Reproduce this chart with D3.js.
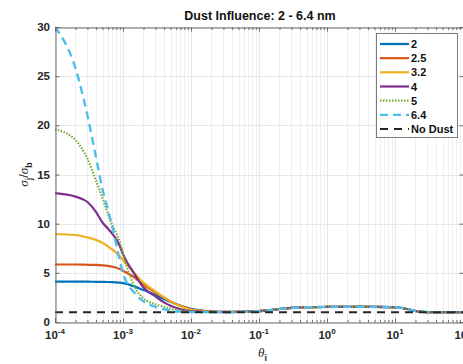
<!DOCTYPE html>
<html>
<head>
<meta charset="utf-8">
<script src="https://cdn.jsdelivr.net/npm/d3@7"></script>
<style>
  html, body { margin: 0; padding: 0; background: #fff; }
  svg { display: block; font-family: "Liberation Sans", Arial, sans-serif; }
</style>
</head>
<body>
<svg id="chart" width="463" height="364"></svg>
<script>
// Incidence angle samples (log spaced)
const theta = [1e-4, 2e-4, 3e-4, 4e-4, 5e-4, 6e-4, 7e-4, 8e-4, 9e-4, 1e-3,
               1.5e-3, 2e-3, 3e-3, 4e-3, 5e-3, 7e-3, 1e-2, 2e-2, 3e-2, 5e-2,
               7e-2, 0.1, 0.15, 0.2, 0.3, 0.5, 1, 2, 5, 10,
               12, 15, 20, 25, 30, 50, 100];

// sigma_j / sigma_b for each dust size (nm)
const size2   = [4.1, 4.1, 4.1, 4.09, 4.08, 4.07, 4.05, 4.02, 4.0, 3.95,
                 3.6, 3.25, 2.75, 2.35, 2.05, 1.65, 1.35, 1.08, 1.04, 1.03,
                 1.05, 1.1, 1.22, 1.32, 1.43, 1.5, 1.53, 1.54, 1.53, 1.5,
                 1.45, 1.32, 1.12, 1.04, 1.01, 1.0, 1.0];
const size2_5 = [5.85, 5.85, 5.82, 5.8, 5.76, 5.7, 5.62, 5.52, 5.38, 5.22,
                 4.5, 3.8, 3.0, 2.5, 2.1, 1.65, 1.3, 1.06, 1.03, 1.02,
                 1.05, 1.1, 1.22, 1.32, 1.43, 1.5, 1.53, 1.54, 1.53, 1.5,
                 1.45, 1.32, 1.12, 1.04, 1.01, 1.0, 1.0];
const size3_2 = [8.95, 8.85, 8.6, 8.35, 8.05, 7.7, 7.35, 7.0, 6.65, 6.3,
                 4.9, 4.0, 3.1, 2.5, 2.1, 1.6, 1.25, 1.05, 1.02, 1.02,
                 1.05, 1.1, 1.22, 1.32, 1.43, 1.5, 1.53, 1.54, 1.53, 1.5,
                 1.45, 1.32, 1.12, 1.04, 1.01, 1.0, 1.0];
const size4   = [13.1, 12.75, 12.2, 11.2, 10.1, 9.5, 8.95, 8.4, 7.7, 6.9,
                 4.8, 3.5, 2.6, 2.0, 1.65, 1.3, 1.1, 1.02, 1.01, 1.02,
                 1.05, 1.1, 1.22, 1.32, 1.43, 1.5, 1.53, 1.54, 1.53, 1.5,
                 1.45, 1.32, 1.12, 1.04, 1.01, 1.0, 1.0];
const size5   = [19.6, 18.5, 16.6, 14.4, 12.6, 11.0, 9.8, 9.0, 8.1, 6.9,
                 3.5, 2.4, 1.8, 1.55, 1.35, 1.15, 1.05, 1.01, 1.01, 1.02,
                 1.05, 1.1, 1.22, 1.32, 1.43, 1.5, 1.53, 1.54, 1.53, 1.5,
                 1.45, 1.32, 1.12, 1.04, 1.01, 1.0, 1.0];
const size6_4 = [30, 25.8, 21.0, 16.8, 13.5, 11.4, 9.6, 7.8, 6.2, 5.0,
                 2.9, 2.1, 1.55, 1.3, 1.15, 1.05, 1.02, 1.0, 1.0, 1.01,
                 1.05, 1.1, 1.22, 1.32, 1.43, 1.5, 1.53, 1.54, 1.53, 1.5,
                 1.45, 1.32, 1.12, 1.04, 1.01, 1.0, 1.0];
const noDust  = [1, 1];
const noDustTheta = [1e-4, 1e2];

const seriesNames = ["2", "2.5", "3.2", "4", "5", "6.4", "No Dust"];
const xTickExps = [-4, -3, -2, -1, 0, 1, 2];
const yTicks = [0, 5, 10, 15, 20, 25, 30];

const series = [
  { name: seriesNames[0], x: theta, y: size2,   color: "#0072BD", dash: null,  width: 2.2 },
  { name: seriesNames[1], x: theta, y: size2_5, color: "#D95319", dash: null,  width: 2.2 },
  { name: seriesNames[2], x: theta, y: size3_2, color: "#EDB120", dash: null,  width: 2.2 },
  { name: seriesNames[3], x: theta, y: size4,   color: "#7E2F8E", dash: null,  width: 2.2 },
  { name: seriesNames[4], x: theta, y: size5,   color: "#77AC30", dash: "1.5,1.5", width: 2.2 },
  { name: seriesNames[5], x: theta, y: size6_4, color: "#4DBEEE", dash: "8,5", width: 2.4 },
  { name: seriesNames[6], x: noDustTheta, y: noDust, color: "#262626", dash: "8,6", width: 2 }
];

const svg = d3.select("#chart");
const pLeft = 55, pRight = 463, pTop = 27, pBottom = 322;

const x = d3.scaleLog().domain([1e-4, 1e2]).range([pLeft, pRight]);
const y = d3.scaleLinear().domain([0, 30]).range([pBottom, pTop]);

const axisColor = "#6b6b6b";

// Grid: minor x lines, major x/y lines
const minorX = [];
for (let e = -4; e < 2; e++) for (let m = 2; m <= 9; m++) minorX.push(m * Math.pow(10, e));
const grid = svg.append("g");
grid.selectAll("line.minor").data(minorX).join("line")
  .attr("x1", d => Math.round(x(d)) + 0.5).attr("x2", d => Math.round(x(d)) + 0.5)
  .attr("y1", pTop).attr("y2", pBottom)
  .attr("stroke", "#ebebeb").attr("stroke-width", 0.8);
grid.selectAll("line.majx").data(xTickExps).join("line")
  .attr("x1", d => Math.round(x(Math.pow(10, d))) + 0.5).attr("x2", d => Math.round(x(Math.pow(10, d))) + 0.5)
  .attr("y1", pTop).attr("y2", pBottom)
  .attr("stroke", "#dedede").attr("stroke-width", 0.8);
grid.selectAll("line.majy").data(yTicks).join("line")
  .attr("x1", pLeft).attr("x2", pRight)
  .attr("y1", d => Math.round(y(d)) + 0.5).attr("y2", d => Math.round(y(d)) + 0.5)
  .attr("stroke", "#e2e2e2").attr("stroke-width", 0.8);

// Data lines
svg.append("clipPath").attr("id", "plotClip").append("rect")
  .attr("x", pLeft).attr("y", pTop - 1).attr("width", pRight - pLeft).attr("height", pBottom - pTop + 1);
const line = d3.line().x(d => x(d[0])).y(d => y(d[1])).curve(d3.curveMonotoneX);
const plot = svg.append("g").attr("clip-path", "url(#plotClip)");
series.forEach(s => {
  const pts = s.x.map((t, i) => [t, s.y[i]]);
  plot.append("path").datum(pts)
    .attr("d", line)
    .attr("fill", "none")
    .attr("stroke", s.color)
    .attr("stroke-width", s.width)
    .attr("stroke-dasharray", s.dash)
    .attr("stroke-linejoin", "round");
});

// Axes (ticks point inward)
const xAxisB = d3.axisBottom(x).tickValues(xTickExps.map(e => Math.pow(10, e))).tickSize(-4).tickFormat("");
const xAxisT = d3.axisTop(x).tickValues(xTickExps.map(e => Math.pow(10, e))).tickSize(-4).tickFormat("");
const xMinorB = d3.axisBottom(x).tickValues(minorX).tickSize(-2.5).tickFormat("");
const xMinorT = d3.axisTop(x).tickValues(minorX).tickSize(-2.5).tickFormat("");
const yAxisL = d3.axisLeft(y).tickValues(yTicks).tickSize(-4).tickFormat("");
const yAxisR = d3.axisRight(y).tickValues(yTicks).tickSize(-4).tickFormat("");

function styleAxis(g) {
  g.selectAll("path,line").attr("stroke", axisColor).attr("stroke-width", 1);
}
svg.append("g").attr("transform", `translate(0,${pBottom + 0.5})`).call(xAxisB).call(styleAxis);
svg.append("g").attr("transform", `translate(0,${pBottom + 0.5})`).call(xMinorB).call(styleAxis).select(".domain").remove();
svg.append("g").attr("transform", `translate(0,${pTop + 0.5})`).call(xAxisT).call(styleAxis);
svg.append("g").attr("transform", `translate(0,${pTop + 0.5})`).call(xMinorT).call(styleAxis).select(".domain").remove();
svg.append("g").attr("transform", `translate(${pLeft + 0.5},0)`).call(yAxisL).call(styleAxis);
svg.append("g").attr("transform", `translate(${pRight + 0.5},0)`).call(yAxisR).call(styleAxis);

// Tick labels
const labelColor = "#262626";
svg.append("g").selectAll("text").data(yTicks).join("text")
  .attr("x", pLeft - 5).attr("y", d => y(d) + 4)
  .attr("text-anchor", "end")
  .attr("font-size", 11.5).attr("font-weight", "bold").attr("fill", labelColor)
  .text(d => d);

const xl = svg.append("g").selectAll("text").data(xTickExps).join("text")
  .attr("x", d => x(Math.pow(10, d)))
  .attr("y", 339)
  .attr("text-anchor", "middle")
  .attr("font-size", 11.5).attr("font-weight", "bold").attr("fill", labelColor);
xl.append("tspan").text("10");
xl.append("tspan").attr("dy", -5).attr("font-size", 8).text(d => d);

// Title
svg.append("text")
  .attr("x", 260).attr("y", 20)
  .attr("text-anchor", "middle")
  .attr("font-size", 12.5).attr("font-weight", "bold").attr("fill", "#111")
  .text("Dust Influence: 2 - 6.4 nm");

// Axis labels
const xlab = svg.append("text")
  .attr("x", 258).attr("y", 357)
  .attr("font-size", 13).attr("fill", labelColor);
xlab.append("tspan").attr("font-style", "italic").attr("font-family", "Liberation Serif, serif").text("θ");
xlab.append("tspan").attr("dy", 4).attr("font-size", 9).attr("font-weight", "bold").text("i");

const ylab = svg.append("text")
  .attr("transform", `translate(28,${(pTop + pBottom) / 2}) rotate(-90)`)
  .attr("text-anchor", "middle")
  .attr("font-size", 13).attr("fill", labelColor);
ylab.append("tspan").attr("font-style", "italic").attr("font-family", "Liberation Serif, serif").text("σ");
ylab.append("tspan").attr("dy", 4).attr("font-size", 9).attr("font-weight", "bold").text("j");
ylab.append("tspan").attr("dy", -4).text("/");
ylab.append("tspan").attr("font-style", "italic").attr("font-family", "Liberation Serif, serif").text("σ");
ylab.append("tspan").attr("dy", 4).attr("font-size", 9).attr("font-weight", "bold").text("b");

// Legend
const lg = svg.append("g");
lg.append("rect")
  .attr("x", 376.5).attr("y", 33.5).attr("width", 81).attr("height", 104)
  .attr("fill", "#fff").attr("stroke", "#7a7a7a").attr("stroke-width", 1);
const rowY = d3.scalePoint().domain(seriesNames).range([44, 129]);
series.forEach(s => {
  const yy = rowY(s.name);
  lg.append("line")
    .attr("x1", 380).attr("x2", 409).attr("y1", yy).attr("y2", yy)
    .attr("stroke", s.color).attr("stroke-width", s.width)
    .attr("stroke-dasharray", s.dash);
  lg.append("text")
    .attr("x", 411).attr("y", yy + 4)
    .attr("font-size", 11).attr("font-weight", "bold").attr("fill", "#111")
    .text(s.name);
});
</script>
</body>
</html>
